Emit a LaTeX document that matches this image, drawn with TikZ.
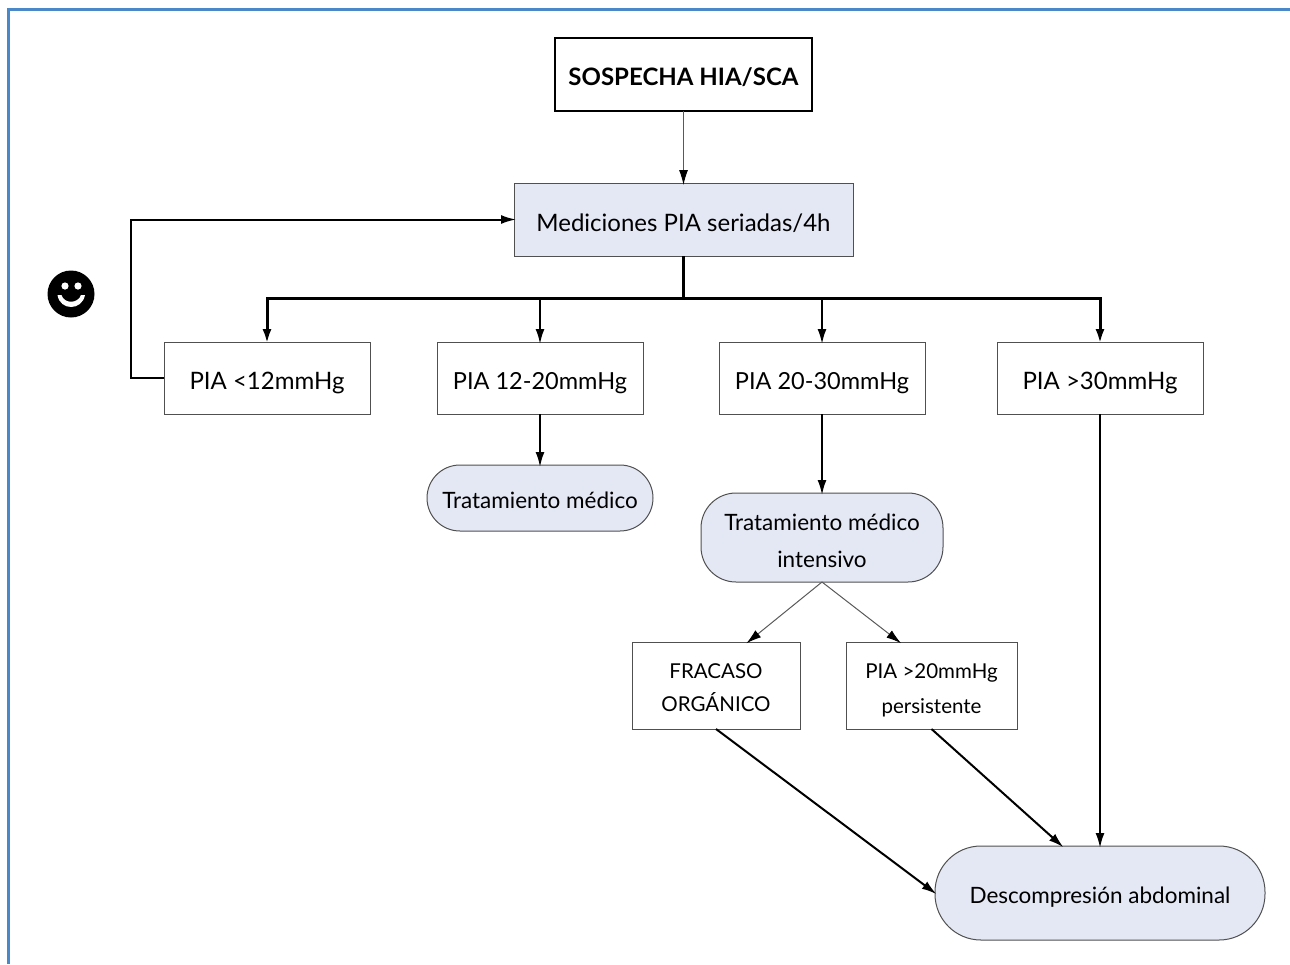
\documentclass[tikz,border=0pt]{standalone}
\usepackage{fontspec}
\setmainfont{Lato}
\usetikzlibrary{arrows.meta}
\definecolor{lightblue}{HTML}{E4E8F4}
\definecolor{framecolor}{HTML}{4A88C7}
\definecolor{boxline}{HTML}{505050}
\tikzset{
  boxnode/.style={rectangle,draw=boxline,line width=1pt,outer sep=0pt,text=black,align=center,text height=28pt,text depth=6pt,font=\fontsize{24}{37}\selectfont},
  softnode/.style={boxnode,fill=lightblue},
  pillnode/.style={softnode,text height=26pt,font=\fontsize{22.5}{37}\selectfont},
  smallnode/.style={boxnode,font=\fontsize{20.5}{33}\selectfont},
  tip/.style={-{Latex[length=15pt,width=9pt,black]},shorten >=-2pt}
}
\begin{document}
\begin{tikzpicture}[x=1pt,y=-1pt]

      \useasboundingbox (0,0) rectangle (1290,964);
      \draw[framecolor,line width=3pt] (8.5,964) -- (8.5,9) -- (1290,9);

      \begin{scope}[every node/.style={boxnode}]
        \node[draw=black,line width=2pt,font=\fontsize{24}{30}\selectfont\bfseries,minimum width=257pt,minimum height=73pt] (sospecha) at (683.5,74.5) {SOSPECHA HIA/SCA};
        \node[softnode,text height=30pt,minimum width=339pt,minimum height=73pt] (mediciones) at (683.5,219.5) {Mediciones PIA seriadas/4h};
        \node[minimum width=206pt,minimum height=72pt] (pia12) at (267,378) {PIA <12mmHg};
        \node[font=\fontsize{23.5}{37}\selectfont,minimum width=206pt,minimum height=72pt] (pia20) at (540,378) {PIA 12-20mmHg};
        \node[font=\fontsize{23.5}{37}\selectfont,minimum width=206pt,minimum height=72pt] (pia30) at (822,378) {PIA 20-30mmHg};
        \node[minimum width=206pt,minimum height=72pt] (piamax) at (1100,378) {PIA >30mmHg};
        \node[pillnode,rounded corners=33pt,minimum width=226pt,minimum height=66pt] (medico) at (540,498) {Tratamiento médico};
        \node[pillnode,text height=66pt,rounded corners=35pt,minimum width=242pt,minimum height=89pt] (intensivo) at (822,537.5) {Tratamiento médico\\intensivo};
        \node[smallnode,text height=57pt,minimum width=168pt,minimum height=87pt] (fracaso) at (716,685.5) {FRACASO\\ORGÁNICO};
        \node[smallnode,text height=61pt,minimum width=171pt,minimum height=87pt] (persistente) at (931.5,685.5) {PIA >20mmHg\\[2pt]persistente};
        \node[pillnode,rounded corners=46pt,minimum width=330pt,minimum height=94pt] (descompresion) at (1100,893) {Descompresión abdominal};
      \end{scope}

      \coordinate (bus) at (683.5,298);
      \coordinate (loop) at (131,378);

      % smiley
      \node[circle,fill=black,minimum size=47pt,inner sep=0pt] (smiley) at (71,294) {};
      \fill[white] (65,286) circle (3.6pt) (78,286) circle (3.6pt);
      \fill[white] (57.5,295) .. controls (60,311) and (82,311) .. (85,295) -- (81,295) .. controls (78,304) and (64,304) .. (61.5,295) -- cycle;

      \begin{scope}[every edge/.style={draw,tip,line width=1pt,black!65}]
        \path (sospecha) edge (mediciones);
        \path (intensivo.south) edge ([xshift=32pt]fracaso.north);
        \path (intensivo.south) edge ([xshift=-32pt]persistente.north);
      \end{scope}

      \begin{scope}[every edge/.style={draw,tip,line width=2pt,black}]
        \path (pia20) edge (medico);
        \path (pia30) edge (intensivo);
        \path (piamax) edge (descompresion);
        \path (fracaso.south) edge (descompresion.west);
        \path (persistente.south) edge ([xshift=-38pt]descompresion.north);
      \end{scope}

      \draw[line width=3pt] (mediciones) -- (bus);
      \draw[tip,line width=3pt] (bus) -| (pia12);
      \draw[tip,line width=3pt] (bus) -| (piamax);
      \draw[tip,line width=2pt] (bus) -| (pia20);
      \draw[tip,line width=2pt] (bus) -| (pia30);
      \draw[tip,line width=2pt] (pia12) -- (loop) |- (mediciones);

    \end{tikzpicture}
\end{document}
